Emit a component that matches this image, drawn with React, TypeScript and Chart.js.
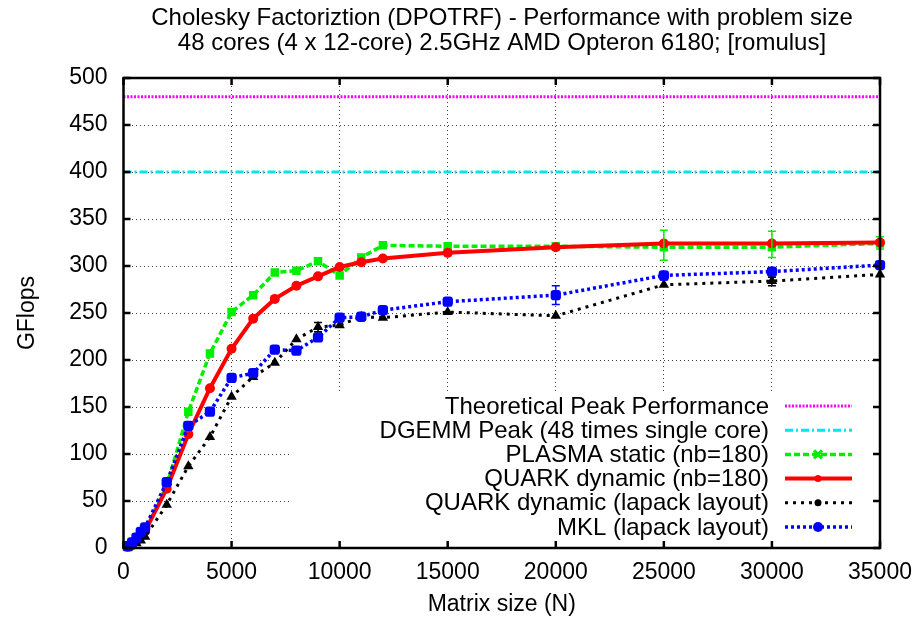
import React, { useEffect, useRef } from "react";
import { Chart, registerables } from "chart.js";

Chart.register(...registerables);

const TITLE_LINES = [
  "Cholesky Factoriztion (DPOTRF) - Performance with problem size",
  "48 cores (4 x 12-core) 2.5GHz AMD Opteron 6180; [romulus]",
];
const X_TITLE = "Matrix size (N)";
const Y_TITLE = "GFlops";

const matrixSizes = [200, 400, 600, 800, 1000, 2000, 3000, 4000, 5000, 6000, 7000, 8000, 9000, 10000, 11000, 12000, 15000, 20000, 25000, 30000, 35000];
const plasmaStatic = [1, 4, 9, 14, 19, 66, 145, 207, 251, 269, 293, 295, 305, 290, 309, 322, 321, 321, 320, 320, 324];
const quarkDynamic = [1, 3, 8, 13, 18, 63, 121, 170, 212, 244, 265, 279, 289, 299, 304, 308, 314, 320, 324, 324, 325];
const quarkLapack = [0.5, 2, 5, 8, 12, 46, 87, 118, 161, 182, 197, 222, 235, 237, 246, 245, 251, 247, 280, 284, 291];
const mklLapack = [2, 6, 11, 17, 22, 70, 130, 145, 181, 186, 211, 210, 224, 245, 246, 253, 262, 269, 290, 294, 301];

const peakRange = [0, 35000];
const theoreticalPeak = 480;
const dgemmPeak = 400;

// error bars: [N, low, high]
const plasmaErr = [[25000, 306, 338], [30000, 309, 337], [35000, 318, 331]];
const mklErr = [[20000, 259, 279], [25000, 285, 294]];
const quarkLapackErr = [[9000, 230, 240], [30000, 279, 288]];

const LEGEND_LABELS = [
  "Theoretical Peak Performance",
  "DGEMM Peak (48 times single core)",
  "PLASMA static (nb=180)",
  "QUARK dynamic (nb=180)",
  "QUARK dynamic (lapack layout)",
  "MKL (lapack layout)",
];

const FONT = "'Liberation Sans', Arial, sans-serif";

const pts = (ys: number[]) => matrixSizes.map((x, i) => ({ x, y: ys[i] }));
const flat = (v: number) => peakRange.map((x) => ({ x, y: v }));

const STYLES = [
  { color: "#ff00ff", width: 3, dash: [2, 1.5], marker: "none" },
  { color: "#00e5ee", width: 3, dash: [8, 3, 2, 3], marker: "none" },
  { color: "#00ee00", width: 3.5, dash: [6, 3], marker: "x" },
  { color: "#ff0000", width: 4, dash: [], marker: "dot" },
  { color: "#000000", width: 3, dash: [3, 5], marker: "dot" },
  { color: "#0000ff", width: 3.5, dash: [3, 3], marker: "blob" },
];

const decorPlugin = {
  id: "decor",
  beforeDatasetsDraw(chart: any) {
    const { ctx, chartArea } = chart;
    ctx.save();
    ctx.fillStyle = "#ffffff";
    ctx.fillRect(290, 393, chartArea.right - 290, chartArea.bottom - 393);
    ctx.restore();
  },
  afterDatasetsDraw(chart: any) {
    const { ctx } = chart;
    const xs = chart.scales.x;
    const ys = chart.scales.y;
    const bars: [number[][], string][] = [
      [plasmaErr, "#00ee00"],
      [mklErr, "#0000ff"],
      [quarkLapackErr, "#000000"],
    ];
    ctx.save();
    ctx.lineWidth = 1.5;
    for (const [list, color] of bars) {
      ctx.strokeStyle = color;
      for (const [n, lo, hi] of list) {
        const px = xs.getPixelForValue(n);
        const p1 = ys.getPixelForValue(lo);
        const p2 = ys.getPixelForValue(hi);
        ctx.beginPath();
        ctx.moveTo(px, p1);
        ctx.lineTo(px, p2);
        ctx.moveTo(px - 4, p1);
        ctx.lineTo(px + 4, p1);
        ctx.moveTo(px - 4, p2);
        ctx.lineTo(px + 4, p2);
        ctx.stroke();
      }
    }
    ctx.restore();
  },
  afterDraw(chart: any) {
    const { ctx, chartArea } = chart;
    const { left, right, top, bottom } = chartArea;
    const xs = chart.scales.x;
    const ys = chart.scales.y;
    ctx.save();
    // border
    ctx.strokeStyle = "#000";
    ctx.lineWidth = 2.5;
    ctx.setLineDash([]);
    ctx.strokeRect(left, top, right - left, bottom - top);
    // inward ticks
    ctx.lineWidth = 2.5;
    ctx.beginPath();
    for (const t of ys.ticks) {
      const py = ys.getPixelForValue(t.value);
      ctx.moveTo(left, py);
      ctx.lineTo(left + 7, py);
      ctx.moveTo(right, py);
      ctx.lineTo(right - 7, py);
    }
    for (const t of xs.ticks) {
      const px = xs.getPixelForValue(t.value);
      ctx.moveTo(px, bottom);
      ctx.lineTo(px, bottom - 7);
      ctx.moveTo(px, top);
      ctx.lineTo(px, top + 7);
    }
    ctx.stroke();

    // titles
    ctx.fillStyle = "#000";
    ctx.font = `24px ${FONT}`;
    ctx.textAlign = "center";
    ctx.textBaseline = "middle";
    ctx.fillText(TITLE_LINES[0], 502, 18);
    ctx.fillText(TITLE_LINES[1], 502, 43);
    ctx.font = `23px ${FONT}`;
    ctx.fillText(X_TITLE, (left + right) / 2, 605);
    ctx.save();
    ctx.translate(28, (top + bottom) / 2);
    ctx.rotate(-Math.PI / 2);
    ctx.fillText(Y_TITLE, 0, 0);
    ctx.restore();

    // legend
    ctx.font = `24px ${FONT}`;
    ctx.textAlign = "right";
    LEGEND_LABELS.forEach((label, i) => {
      const y = 406 + i * 24.2;
      const st = STYLES[i];
      ctx.fillStyle = "#000";
      ctx.fillText(label, 769, y + 1);
      ctx.strokeStyle = st.color;
      ctx.lineWidth = st.width;
      ctx.setLineDash(st.dash);
      ctx.beginPath();
      ctx.moveTo(785, y);
      ctx.lineTo(852, y);
      ctx.stroke();
      ctx.setLineDash([]);
      const cx = 818;
      ctx.fillStyle = st.color;
      if (st.marker === "x") {
        ctx.lineWidth = 3;
        ctx.beginPath();
        ctx.moveTo(cx - 4, y - 4);
        ctx.lineTo(cx + 4, y + 4);
        ctx.moveTo(cx + 4, y - 4);
        ctx.lineTo(cx - 4, y + 4);
        ctx.stroke();
      } else if (st.marker === "dot") {
        ctx.beginPath();
        ctx.arc(cx, y, 3.5, 0, Math.PI * 2);
        ctx.fill();
      } else if (st.marker === "blob") {
        ctx.beginPath();
        ctx.arc(cx, y, 5, 0, Math.PI * 2);
        ctx.fill();
      }
    });
    ctx.restore();
  },
};

export default function App() {
  const canvasRef = useRef<HTMLCanvasElement | null>(null);

  useEffect(() => {
    const canvas = canvasRef.current;
    if (!canvas) return;
    const ds = (label: string, data: any[], i: number, extra: any) => ({
      label,
      data,
      borderColor: STYLES[i].color,
      backgroundColor: STYLES[i].color,
      borderWidth: STYLES[i].width,
      borderDash: STYLES[i].dash,
      pointRadius: 0,
      tension: 0,
      order: 10 - i,
      clip: 10,
      ...extra,
    });
    const chart = new Chart(canvas, {
      type: "line",
      data: {
        datasets: [
          ds(LEGEND_LABELS[0], flat(theoreticalPeak), 0, {}),
          ds(LEGEND_LABELS[1], flat(dgemmPeak), 1, {}),
          ds(LEGEND_LABELS[2], pts(plasmaStatic), 2, { pointRadius: 6, pointStyle: "rect", pointBorderWidth: 0 }),
          ds(LEGEND_LABELS[3], pts(quarkDynamic), 3, { pointRadius: 5, pointStyle: "circle", pointBorderWidth: 0 }),
          ds(LEGEND_LABELS[4], pts(quarkLapack), 4, { pointRadius: 6, pointStyle: "triangle", pointBorderWidth: 0 }),
          ds(LEGEND_LABELS[5], pts(mklLapack), 5, { pointRadius: 6, pointStyle: "rectRounded", pointBorderWidth: 0 }),
        ],
      },
      options: {
        responsive: false,
        animation: false,
        devicePixelRatio: 1,
        layout: { padding: { top: 78, right: 40, left: 0, bottom: 0 } },
        plugins: { legend: { display: false }, title: { display: false }, tooltip: { enabled: false } },
        scales: {
          x: {
            type: "linear",
            min: 0,
            max: 35000,
            afterFit: (s: any) => { s.height = 73; s.paddingRight = 0; s.paddingLeft = 0; },
            ticks: { stepSize: 5000, padding: 11, color: "#000", font: { family: FONT, size: 23 }, maxRotation: 0, callback: (v: any) => String(v) },
            grid: { color: "rgba(0,0,0,0.75)", lineWidth: 1, drawTicks: false },
            border: { display: false, dash: [1, 3] },
          },
          y: {
            type: "linear",
            min: 0,
            max: 500,
            afterFit: (s: any) => { s.width = 123.5; },
            ticks: { stepSize: 50, padding: 16, color: "#000", font: { family: FONT, size: 23 } },
            grid: { color: "rgba(0,0,0,0.75)", lineWidth: 1, drawTicks: false },
            border: { display: false, dash: [1, 3] },
          },
        },
      },
      plugins: [decorPlugin],
    });
    return () => chart.destroy();
  }, []);

  return (
    <div style={{ position: "fixed", left: 0, top: 0, width: 920, height: 621, background: "#fff" }}>
      <canvas ref={canvasRef} width={920} height={621} style={{ width: 920, height: 621, display: "block" }} />
    </div>
  );
}
